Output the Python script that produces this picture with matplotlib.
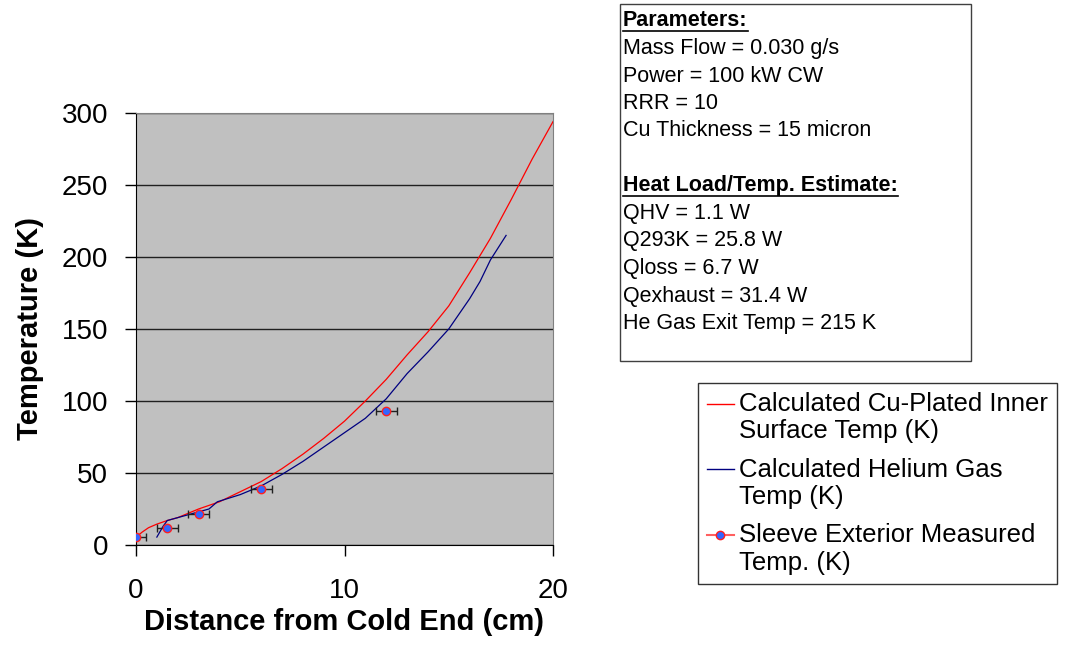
import matplotlib
matplotlib.use('Agg')
import matplotlib.pyplot as plt
from matplotlib import rcParams
from matplotlib.lines import Line2D
from matplotlib.patches import Rectangle
from matplotlib.legend_handler import HandlerLine2D

rcParams['font.family'] = ['Liberation Sans', 'DejaVu Sans']

# calculated Cu-plated inner surface temperature
cu_x = [0, 0.3, 0.6, 1, 1.5, 2, 3, 4, 5, 6, 7, 8, 9, 10, 11, 12, 13, 14, 15, 16, 17, 18, 19, 20]
cu_T = [5.5, 9, 12, 14.5, 17, 19, 25, 30, 37, 44, 53, 63, 74, 86, 100, 115, 132, 148, 166, 189, 213, 240, 268, 294]

# calculated helium gas temperature
he_x = [1.0, 1.3, 1.5, 2, 2.5, 3, 3.5, 3.9, 5, 6, 7, 8, 9, 10, 11, 12, 13, 14, 15, 16, 16.5, 17, 17.75]
he_T = [5.5, 13, 17, 19, 21, 23, 25, 30, 35, 41, 49, 58, 68, 78, 88, 101.5, 119, 134, 150, 171, 183, 198, 215]

# sleeve exterior measured
meas_x = [0, 1.5, 3, 6, 12]
meas_T = [5.5, 11.6, 21.3, 38.9, 93]
meas_xerr = 0.5

labels = ["Calculated Cu-Plated Inner\nSurface Temp (K)",
          "Calculated Helium Gas\nTemp (K)",
          "Sleeve Exterior Measured\nTemp. (K)"]

box_lines = [("Parameters:", True), ("Mass Flow = 0.030 g/s", False),
             ("Power = 100 kW CW", False), ("RRR = 10", False),
             ("Cu Thickness = 15 micron", False), ("", False),
             ("Heat Load/Temp. Estimate:", True), ("QHV = 1.1 W", False),
             ("Q293K = 25.8 W", False), ("Qloss = 6.7 W", False),
             ("Qexhaust = 31.4 W", False), ("He Gas Exit Temp = 215 K", False)]


class TopLineHandler(HandlerLine2D):
    # put the legend key next to the first line of a two-line label
    def create_artists(self, legend, orig_handle, xdescent, ydescent, width, height, fontsize, trans):
        return super().create_artists(legend, orig_handle, xdescent, ydescent - 21,
                                      width, height, fontsize, trans)


W, H = 1065, 662
fig = plt.figure(figsize=(W / 100, H / 100), dpi=100)
ax = fig.add_axes([136 / W, 1 - 545 / H, 417 / W, 432 / H])
ax.set_facecolor('#C0C0C0')

ax.plot(cu_x, cu_T, color='#FF0000', lw=0.9, zorder=3)
ax.plot(he_x, he_T, color='#000080', lw=0.9, zorder=3)
ax.errorbar(meas_x, meas_T, xerr=meas_xerr, fmt='o', ms=6, mfc='#3366FF', mec='#FF2020',
            mew=1.0, ecolor='#202020', elinewidth=1.0, capsize=3, capthick=1.0, zorder=4)

ax.set_xlim(0, 20)
ax.set_ylim(0, 300)
ax.set_xticks([0, 10, 20])
ax.set_yticks(range(0, 301, 50))
ax.yaxis.grid(True, color='#202020', lw=1.0)
ax.set_axisbelow(True)
ax.tick_params(axis='both', direction='out', length=8, width=1, labelsize=20, pad=12)
ax.tick_params(axis='x', pad=16)
for s in ['top', 'right']:
    ax.spines[s].set_color('#808080')
for s in ['left', 'bottom']:
    ax.spines[s].set_color('black')

fig.text(344 / W, 1 - 630 / H, "Distance from Cold End (cm)", fontsize=21,
         fontweight='bold', ha='center', va='baseline')
fig.text(30 / W, 1 - 329 / H, "Temperature (K)", fontsize=21, fontweight='bold',
         ha='center', va='center', rotation=90)

# parameters box
fig.patches.append(Rectangle((620 / W, 1 - 361 / H), 351 / W, 357 / H, transform=fig.transFigure,
                             fill=False, edgecolor='#404040', lw=1.0))
texts = []
base = 26.5
for i, (s, ul) in enumerate(box_lines):
    t = fig.text(623 / W, 1 - (base + 27.5 * i) / H, s, fontsize=15.5,
                 fontweight='bold' if ul else 'normal', va='baseline', ha='left')
    texts.append((t, ul))

handles = [Line2D([], [], color='#FF0000', lw=1.0),
           Line2D([], [], color='#000080', lw=1.0),
           Line2D([], [], color='#FF6060', lw=1.5, marker='o', ms=6, mfc='#3366FF', mec='#FF2020')]
leg = fig.legend(handles, labels, loc='upper left', bbox_to_anchor=(698 / W, 1 - 383 / H),
                 fontsize=18.5, frameon=True, fancybox=False, edgecolor='black',
                 handlelength=1.05, handletextpad=0.2, borderpad=0.35, labelspacing=0.55,
                 borderaxespad=0, handler_map={Line2D: TopLineHandler()})
leg.get_frame().set_linewidth(1.0)
for t in leg.get_texts():
    t.set_linespacing(1.18)

fig.canvas.draw()
r = fig.canvas.get_renderer()
for t, ul in texts:
    if ul:
        bb = t.get_window_extent(r)
        y = bb.y0 + (bb.y1 - bb.y0) * 0.18 - 3
        fig.add_artist(Line2D([bb.x0 / W, bb.x1 / W], [y / H, y / H], transform=fig.transFigure,
                              color='black', lw=1.2))

fig.savefig('out.png', dpi=100)
